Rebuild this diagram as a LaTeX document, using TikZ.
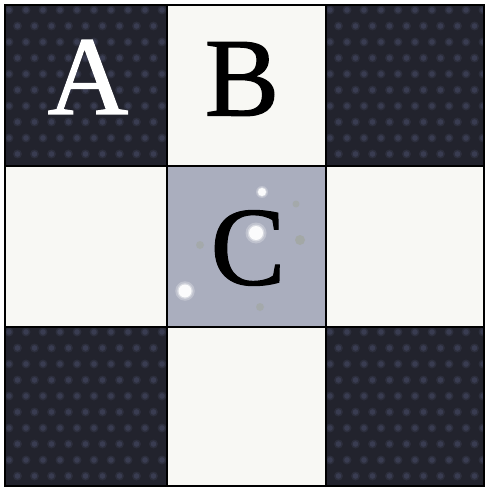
\documentclass[tikz,border=0pt]{standalone}
\usepackage{fontspec}
\setmainfont{Liberation Serif}
\newfontfamily\quiltfont[FakeBold=1.1]{Liberation Serif}
\definecolor{navy}{HTML}{22232D}
\definecolor{navydot}{HTML}{393C51}
\definecolor{navyhalo}{HTML}{2C2E3C}
\definecolor{cream}{HTML}{F8F8F4}
\definecolor{greyblue}{HTML}{AAAEBE}
\definecolor{spot}{HTML}{9DA38F}
\newcommand\quiltdark[4]{%
  \fill[navy] (#1,#2) rectangle (#3,#4);
  \begin{scope}
    \clip (#1,#2) rectangle (#3,#4);
    \foreach \j in {0,...,10}{
      \foreach \i in {0,...,10}{
        \fill[navyhalo] ({#1+4+\i*17+mod(\j,2)*8.5},{#2+5+\j*16}) circle (4.5);
        \fill[navydot] ({#1+4+\i*17+mod(\j,2)*8.5},{#2+5+\j*16}) circle (2.8);
      }
    }
  \end{scope}}
\newcommand\quiltspot[3]{%
  \fill[white, opacity=0.25] (#1,#2) circle ({#3*1.5});
  \fill[white, opacity=0.4] (#1,#2) circle ({#3*1.2});
  \fill[white, opacity=0.9] (#1,#2) circle (#3);}
\tikzset{
  letter/.style={inner sep=0pt, font=\quiltfont\fontsize{112}{112}\selectfont},
  gridline/.style={draw=black, line width=2.4pt}
}
\begin{document}
\begin{tikzpicture}[x=1pt,y=-1pt]
\useasboundingbox (0,0) rectangle (486,489);
\fill[white] (0,0) rectangle (486,489);
% dark corners
\quiltdark{5}{5}{167}{166}
\quiltdark{326}{5}{484}{166}
\quiltdark{5}{327}{167}{486}
\quiltdark{326}{327}{484}{486}
% cream cells
\fill[cream] (167,5) rectangle (326,166);
\fill[cream] (5,166) rectangle (167,327);
\fill[cream] (326,166) rectangle (484,327);
\fill[cream] (167,327) rectangle (326,486);
% centre cell
\fill[greyblue] (167,166) rectangle (326,327);
\quiltspot{262}{192}{4}
\quiltspot{256}{233}{7}
\quiltspot{185}{291}{6.5}
\fill[spot, opacity=0.5] (300,240) circle (5);
\fill[spot, opacity=0.4] (200,245) circle (4);
\fill[spot, opacity=0.4] (260,307) circle (4);
\fill[spot, opacity=0.4] (296,204) circle (3.5);
% grid lines
\draw[gridline] (5,5) rectangle (484,486);
\draw[gridline] (167,5) -- (167,486);
\draw[gridline] (326,5) -- (326,486);
\draw[gridline] (5,166) -- (484,166);
\draw[gridline] (5,327) -- (484,327);
% letters
\node[letter, text=white] (A) at (88,77) {A};
\node[letter, text=black] (B) at (242,79) {B};
\node[letter, text=black] (C) at (248,248) {C};
\end{tikzpicture}
\end{document}
